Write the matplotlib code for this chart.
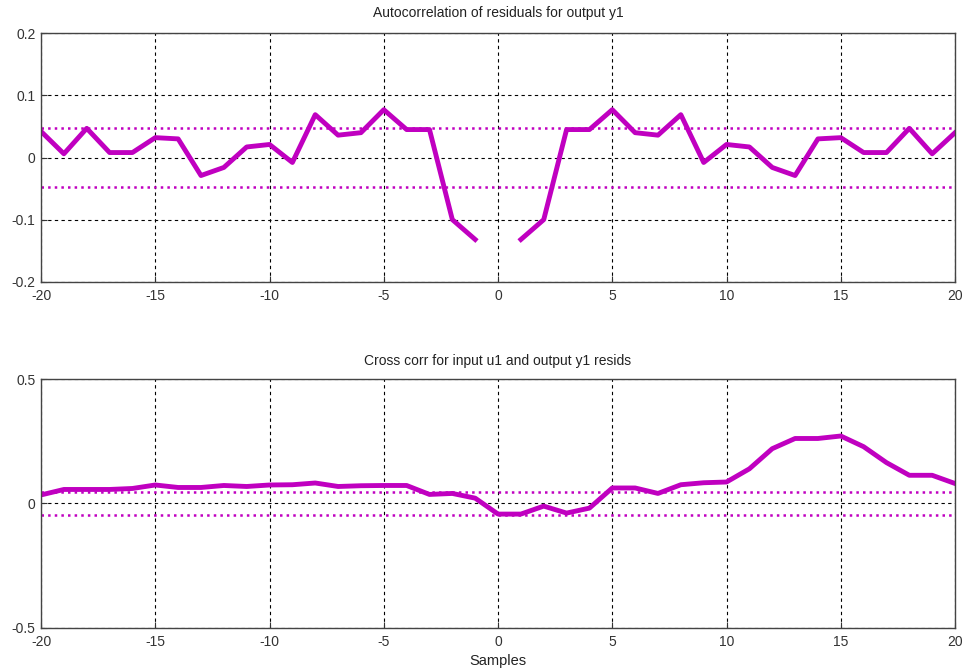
import numpy as np
import matplotlib
matplotlib.use("Agg")
import matplotlib.pyplot as plt

plt.rcParams["font.family"] = ["Liberation Sans", "DejaVu Sans"]
plt.rcParams["axes.unicode_minus"] = False

lags = np.arange(-20, 21)

# autocorrelation of residuals, lag 0 left out
acf_y1 = [0.042, 0.006, 0.047, 0.008, 0.008, 0.032, 0.030, -0.029, -0.016, 0.017,
          0.021, -0.008, 0.069, 0.036, 0.040, 0.077, 0.045, 0.045, -0.100, -0.132,
          np.nan,
          -0.132, -0.100, 0.045, 0.045, 0.077, 0.040, 0.036, 0.069, -0.008, 0.021,
          0.017, -0.016, -0.029, 0.030, 0.032, 0.008, 0.008, 0.047, 0.006, 0.040]

# cross correlation u1 / y1 residuals
ccf_u1y1 = [0.034, 0.056, 0.056, 0.056, 0.060, 0.074, 0.064, 0.064, 0.072, 0.068,
            0.074, 0.075, 0.082, 0.068, 0.071, 0.072, 0.072, 0.036, 0.040, 0.021,
            -0.043, -0.043, -0.011, -0.039, -0.019, 0.062, 0.062, 0.040, 0.075, 0.083,
            0.086, 0.139, 0.220, 0.261, 0.261, 0.271, 0.228, 0.164, 0.113, 0.113, 0.080]

conf_acf = 0.048
conf_ccf = 0.045

line_col = "#c000c0"

fig = plt.figure(figsize=(9.68, 6.69), dpi=100)
ax1 = fig.add_axes([0.0424, 0.5789, 0.9442, 0.3713])
ax2 = fig.add_axes([0.0424, 0.0617, 0.9442, 0.3717])


def style(ax, yticks):
    ax.set_xlim(-20, 20)
    ax.set_xticks(np.arange(-20, 21, 5))
    ax.set_yticks(yticks)
    ax.set_yticklabels(["%g" % t for t in yticks])
    ax.grid(True, color="black", linestyle=(0, (3, 3)), linewidth=0.8)
    ax.tick_params(direction="in", length=4, labelsize=10, colors="#333333")
    ax.tick_params(axis="x", pad=5)
    ax.tick_params(axis="y", pad=4)
    for s in ax.spines.values():
        s.set_color("#444444")
        s.set_linewidth(1.0)


ax1.plot(lags, acf_y1, color=line_col, linewidth=3.5, solid_joinstyle="round")
ax1.axhline(conf_acf, color=line_col, linestyle=":", linewidth=1.8)
ax1.axhline(-conf_acf, color=line_col, linestyle=":", linewidth=1.8)
ax1.set_ylim(-0.2, 0.2)
style(ax1, [-0.2, -0.1, 0, 0.1, 0.2])
ax1.set_title("Autocorrelation of residuals for output y1", fontsize=10, color="#222222", pad=12)

ax2.plot(lags, ccf_u1y1, color=line_col, linewidth=3.5, solid_joinstyle="round")
ax2.axhline(conf_ccf, color=line_col, linestyle=":", linewidth=1.8)
ax2.axhline(-conf_ccf, color=line_col, linestyle=":", linewidth=1.8)
ax2.set_ylim(-0.5, 0.5)
style(ax2, [-0.5, 0, 0.5])
ax2.set_title("Cross corr for input u1 and output y1 resids", fontsize=10, color="#222222", pad=10)
ax2.set_xlabel("Samples", fontsize=10.5, color="#222222", labelpad=4)

fig.savefig("out.png", dpi=100)
